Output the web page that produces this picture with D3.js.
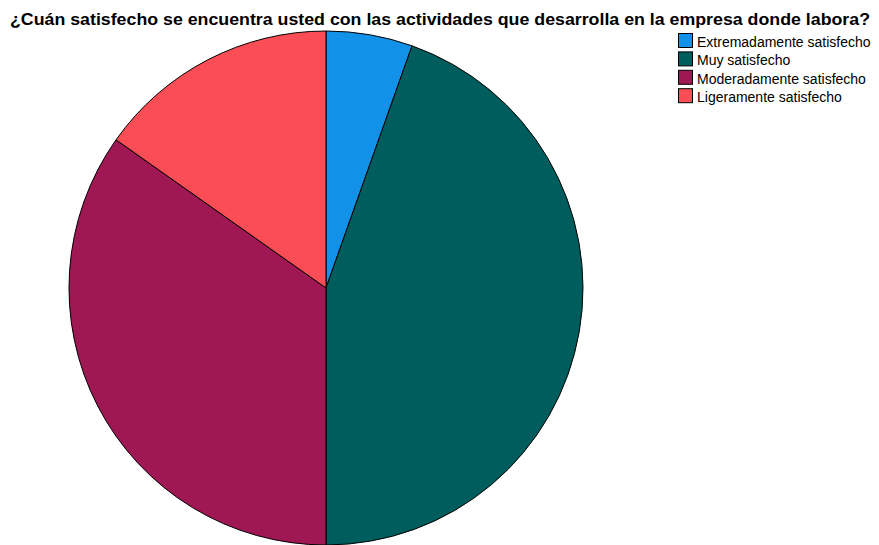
<!DOCTYPE html>
<html><head><meta charset="utf-8">
<script src="https://cdn.jsdelivr.net/npm/d3@7"></script>
<style>body{margin:0;background:#fff}svg{display:block}</style>
</head><body>
<svg id="c" width="879" height="545"></svg>
<script>
const title = "¿Cuán satisfecho se encuentra usted con las actividades que desarrolla en la empresa donde labora?";
const categories = ["Extremadamente satisfecho","Muy satisfecho","Moderadamente satisfecho","Ligeramente satisfecho"];
const counts = [5, 41, 32, 14];
const colors = ["#1192e8","#005d5d","#9f1853","#fa4d56"];

const svg = d3.select("#c");
const cx = 326, cy = 288, r = 257;
const color = d3.scaleOrdinal().domain(categories).range(colors);
const pie = d3.pie().sort(null).value(d => d.v);
const arc = d3.arc().innerRadius(0).outerRadius(r);
const data = categories.map((c,i)=>({c, v: counts[i]}));

svg.append("g").attr("transform",`translate(${cx},${cy})`)
  .selectAll("path").data(pie(data)).join("path")
  .attr("d", arc).attr("fill", d=>color(d.data.c))
  .attr("stroke","#000").attr("stroke-width",1).attr("stroke-linejoin","round");

svg.append("text").attr("x",10).attr("y",25)
  .attr("font-family","Liberation Sans, Arial, sans-serif").attr("font-weight","bold")
  .attr("font-size",17).attr("fill","#000")
  .attr("textLength",860).attr("lengthAdjust","spacingAndGlyphs").text(title);

const lg = svg.append("g").attr("transform","translate(678,33)");
const row = lg.selectAll("g").data(categories).join("g").attr("transform",(d,i)=>`translate(0,${i*18.4})`);
row.append("rect").attr("x",0.5).attr("y",0.5).attr("width",14).attr("height",14)
  .attr("fill",d=>color(d)).attr("stroke","#000").attr("stroke-width",1);
row.append("text").attr("x",19).attr("y",14)
  .attr("font-family","Liberation Sans, Arial, sans-serif").attr("font-size",14)
  .attr("fill","#000").text(d=>d);
</script>
</body></html>
